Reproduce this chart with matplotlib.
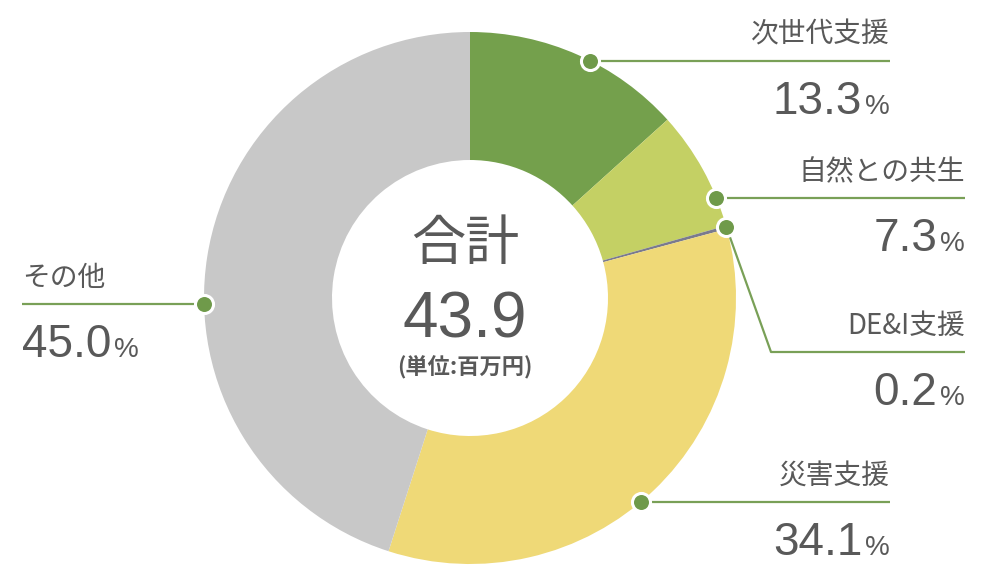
import numpy as np
import matplotlib
matplotlib.use("Agg")
import matplotlib.pyplot as plt

plt.rcParams['font.family'] = ['Noto Sans CJK JP', 'DejaVu Sans']

# data
labels = ["次世代支援", "自然との共生", "DE&I支援", "災害支援", "その他"]
shares = [13.3, 7.3, 0.2, 34.1, 45.0]
colors = ["#74a04c", "#c4d064", "#7a7a8e", "#efd977", "#c8c8c8"]
total_text = "43.9"

# layout (pixel units, y measured from the top)
W, H = 1000, 580
cx, cy = 470, 298
r_out, r_in = 266, 138
dot_frac = [0.56, 0.76, 0.5, 0.53, 0.437]   # where in the slice the dot sits
line_end = [890, 965, 965, 890, 22]
line_y = [None, None, 352, None, None]       # None -> horizontal from the dot
elbow_x = [None, None, 771, None, None]
text_col = "#595959"
line_col = "#79a057"
num_font = ['Liberation Sans', 'DejaVu Sans']

fig = plt.figure(figsize=(W / 100, H / 100), dpi=100)
ax = fig.add_axes([0, 0, 1, 1])


def Y(y):
    return H - y


wedges, _ = ax.pie(shares, colors=colors, startangle=90, counterclock=False,
                   center=(cx, Y(cy)), radius=r_out,
                   wedgeprops=dict(width=r_out - r_in, edgecolor='none'))
ax.set_xlim(0, W)
ax.set_ylim(0, H)
ax.set_aspect('equal')
ax.axis('off')

fig.canvas.draw()
renderer = fig.canvas.get_renderer()


def text_width(t):
    bb = t.get_window_extent(renderer=renderer)
    return bb.width


for i, w in enumerate(wedges):
    a1, a2 = w.theta1, w.theta2
    ang = np.deg2rad(a2 - dot_frac[i] * (a2 - a1))
    dx = cx + r_out * np.cos(ang)
    dy = cy - r_out * np.sin(ang)
    ly = dy if line_y[i] is None else line_y[i]
    xs, ys = [dx], [dy]
    if elbow_x[i] is not None:
        xs.append(elbow_x[i])
        ys.append(ly)
    xs.append(line_end[i])
    ys.append(ly)
    ax.plot(xs, [Y(v) for v in ys], color=line_col, lw=1.6, zorder=3,
            solid_capstyle='butt')
    ax.plot(dx, Y(dy), 'o', ms=13, mfc="#6f9a4a", mec='white', mew=2.2,
            zorder=4)

    right = line_end[i] > cx
    ha = 'right' if right else 'left'
    ax.text(line_end[i], Y(ly - 26), labels[i], fontsize=20, color=text_col,
            ha=ha, va='center')
    num = f"{shares[i]:.1f}"
    base = Y(ly + 53)
    if right:
        p = ax.text(line_end[i], base, "%", fontsize=20, color=text_col,
                    ha='right', va='baseline', family=num_font)
        pw = text_width(p)
        ax.text(line_end[i] - pw - 3, base, num, fontsize=33, color=text_col,
                ha='right', va='baseline', family=num_font)
    else:
        n = ax.text(line_end[i], base, num, fontsize=33, color=text_col,
                    ha='left', va='baseline', family=num_font)
        nw = text_width(n)
        ax.text(line_end[i] + nw + 3, base, "%", fontsize=20, color=text_col,
                ha='left', va='baseline', family=num_font)

# centre text
ax.text(cx - 5, Y(244), "合計", fontsize=39, color=text_col,
        ha='center', va='center')
ax.text(cx - 5, Y(337), total_text, fontsize=46, color=text_col,
        ha='center', va='baseline', family=num_font)
ax.text(cx - 5, Y(368), "(単位:百万円)", fontsize=16, color=text_col,
        ha='center', va='center', fontweight='bold')

fig.savefig("out.png", dpi=100, facecolor='white')
